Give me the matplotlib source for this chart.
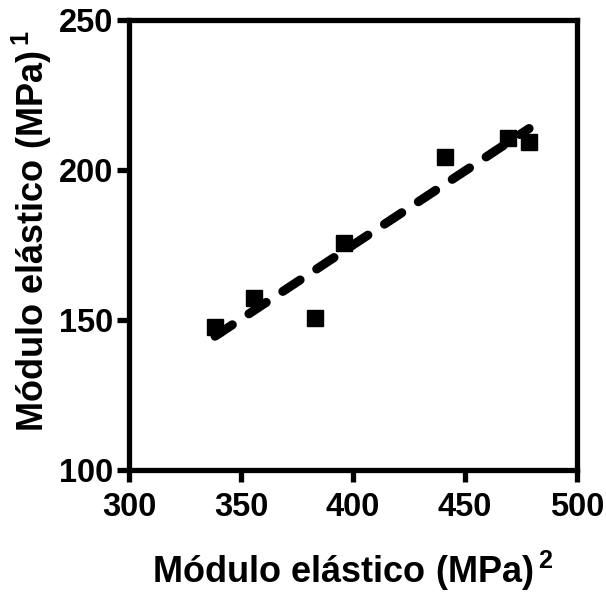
import numpy as np
import matplotlib
matplotlib.use("Agg")
import matplotlib.pyplot as plt

plt.rcParams['font.family'] = ['Liberation Sans', 'DejaVu Sans']
plt.rcParams['font.weight'] = 'bold'
plt.rcParams['mathtext.fontset'] = 'custom'
plt.rcParams['mathtext.rm'] = 'Liberation Sans:bold'
plt.rcParams['mathtext.bf'] = 'Liberation Sans:bold'

# Elastic modulus measured by two methods (MPa)
modulus_2 = [338.4, 355.8, 383.0, 396.0, 441.0, 469.0, 478.6]
modulus_1 = [147.8, 157.2, 150.7, 175.8, 204.2, 210.6, 209.3]

x_ticks = [300, 350, 400, 450, 500]
y_ticks = [100, 150, 200, 250]

fig = plt.figure(figsize=(6.06, 5.93), dpi=100)
ax = fig.add_axes([0.2129, 0.2074, 0.7393, 0.7589])

ax.plot(modulus_2, modulus_1, linestyle='none', marker='s', markersize=11.5,
        color='black', zorder=3)

# Linear regression over the measured range
slope, intercept = np.polyfit(modulus_2, modulus_1, 1)
xf = np.array([min(modulus_2), max(modulus_2)])
ax.plot(xf, slope * xf + intercept, color='black', linewidth=6.5,
        dashes=(2.3, 2.2), dash_capstyle='round', solid_capstyle='round',
        zorder=4)

ax.set_xlim(300, 500)
ax.set_ylim(100, 250)
ax.set_xticks(x_ticks)
ax.set_yticks(y_ticks)

for s in ax.spines.values():
    s.set_linewidth(3.8)
ax.tick_params(direction='out', length=8.5, width=3.8, labelsize=23.5)
ax.tick_params(axis='x', pad=7)
ax.tick_params(axis='y', pad=3)
for lab in ax.get_xticklabels() + ax.get_yticklabels():
    lab.set_fontweight('bold')

ax.set_xlabel(r'Módulo elástico (MPa)$^{\,\mathbf{2}}$', fontsize=26,
              fontweight='bold')
ax.set_ylabel(r'Módulo elástico (MPa)$^{\,\mathbf{1}}$', fontsize=26,
              fontweight='bold')
ax.xaxis.set_label_coords(0.5, -0.175)
ax.yaxis.set_label_coords(-0.168, 0.53)

fig.savefig('out.png', dpi=100)
